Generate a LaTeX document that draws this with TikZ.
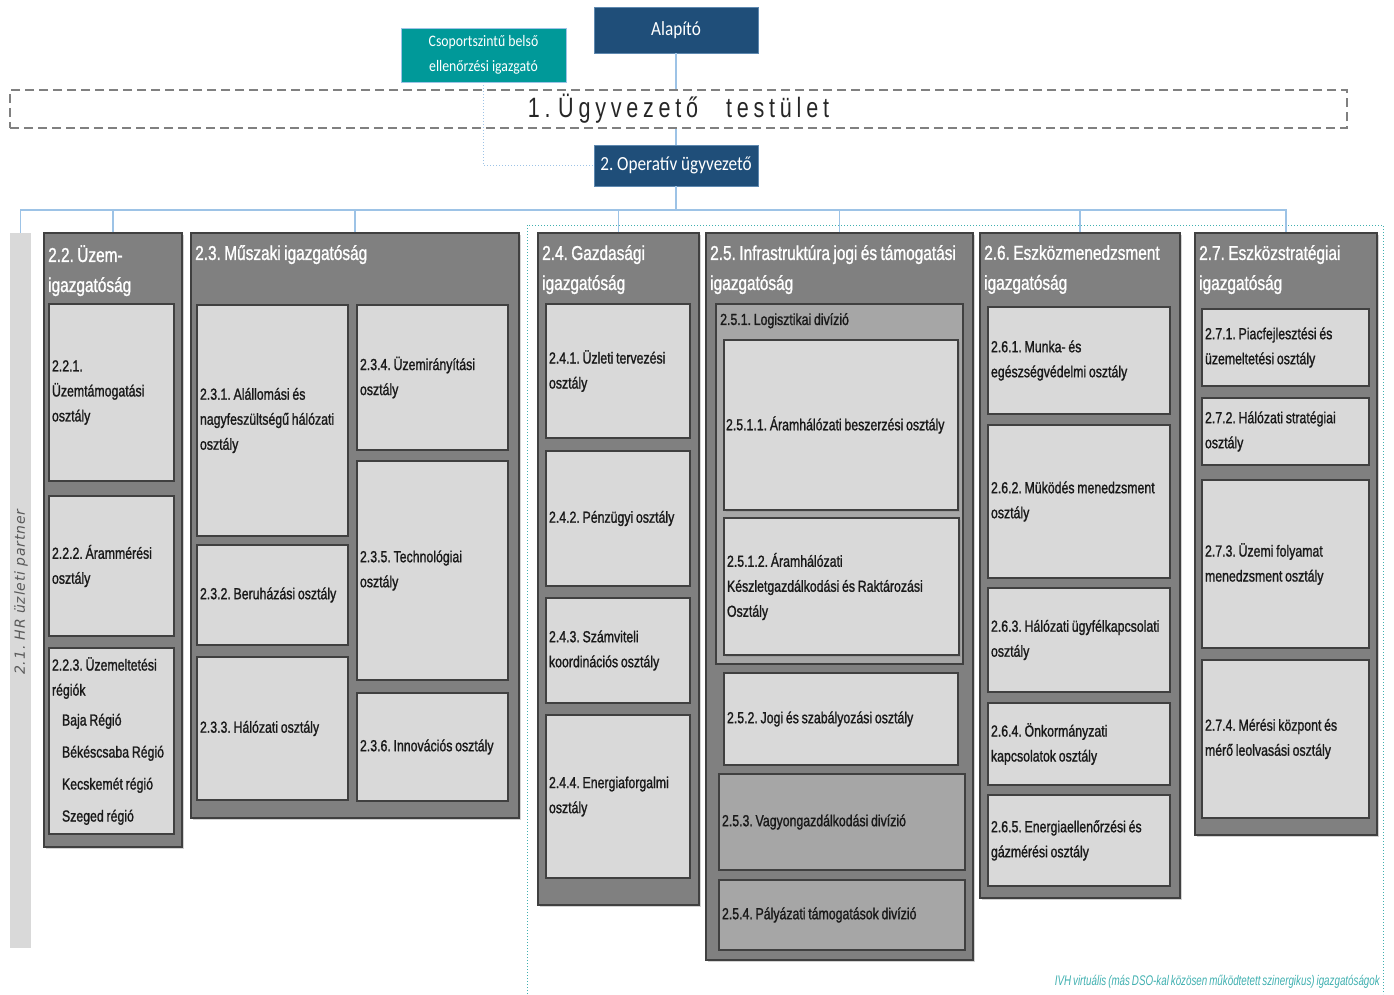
\documentclass[tikz,border=0pt]{standalone}
\usepackage{fontspec}
\setmainfont{Liberation Sans}[FakeStretch=0.77,WordSpace=0.8,FakeBold=1.2]
\newfontfamily\topfont{Carlito}[FakeStretch=0.86]
\newfontfamily\boardfont{Liberation Sans}[FakeStretch=0.77,WordSpace=0.7,LetterSpace=17]
\newfontfamily\hrfont{DejaVu Sans}[LetterSpace=6]
\newfontfamily\notefont{Liberation Sans}[FakeStretch=0.7,WordSpace=0.7]
\usepackage{tikz}
\usetikzlibrary{shadows}
\frenchspacing
\hyphenpenalty=10000
\exhyphenpenalty=10000

\definecolor{navy}{RGB}{31,78,121}
\definecolor{ctrlteal}{RGB}{0,153,153}
\definecolor{linkblue}{RGB}{157,195,230}
\definecolor{ivhteal}{RGB}{64,176,176}

\tikzset{
  head/.style={draw=linkblue!50!navy, fill=navy, text=white, line width=0.8pt,
    font=\topfont\fontsize{20}{24}\selectfont, inner sep=0pt},
  ctrl/.style={draw=linkblue, fill=ctrlteal, text=white, line width=0.8pt, align=center,
    font=\topfont\fontsize{16}{25}\selectfont, inner sep=0pt},
  board/.style={draw=black!50, line width=2.5pt, dash pattern=on 9pt off 5pt,
    font=\boardfont\fontsize{28}{30}\selectfont, text=black!85, inner sep=0pt},
  link/.style={draw=linkblue, line width=1.2pt},
  ivh/.style={draw=ivhteal, line width=1pt, dotted},
  note/.style={text=ivhteal, font=\notefont\itshape\fontsize{14}{16}\selectfont, inner sep=0pt},
  hrbar/.style={fill=black!15, inner sep=0pt},
  hrtext/.style={text=black!65, font=\hrfont\itshape\fontsize{14}{16}\selectfont, inner sep=0pt},
  dept/.style={draw=black!75, fill=black!50, line width=1.3pt, inner sep=0pt,
    drop shadow={shadow xshift=2pt, shadow yshift=-2pt, opacity=0.35}},
  dtitle/.style={text=white, anchor=north west, align=flush left, inner sep=0pt,
    font=\fontsize{20}{30}\selectfont},
  unit/.style={draw=black!75, fill=black!15, line width=1.3pt, text=black!90, align=flush left,
    inner xsep=2pt, inner ysep=2pt, font=\fontsize{16}{25}\selectfont,
    drop shadow={shadow xshift=1.5pt, shadow yshift=-1.5pt, opacity=0.3}},
  division/.style={unit, fill=black!35}
}

\begin{document}
\begin{tikzpicture}[x=1pt, y=-1pt]
  \useasboundingbox (0,0) rectangle (1394,994);

  % Draw the frame of the virtual directorates
  \draw[ivh] (527,994) |- (1383,225) -- (1383,994);
  \node[note, anchor=east] (ivhnote) at (1380,982) {IVH virtuális (más DSO-kal közösen működtetett szinergikus) igazgatóságok};

  % Draw the top of the chart
  \node[head, minimum width=164pt, minimum height=46pt] (alap) at (676,30) {Alapító};
  \node[ctrl, minimum width=165pt, minimum height=54pt] (csop) at (483.5,55) {\raisebox{-3pt}{Csoportszintű belső}\\\raisebox{-3pt}{ellenőrzési igazgató}};
  \node[board, minimum width=1337pt, minimum height=38pt] (board) at (678.5,109) {1. Ügyvezető\quad testület};
  \node[head, minimum width=164pt, minimum height=41pt] (op) at (676,165.5) {2. Operatív ügyvezető};

  \draw[link] (alap.south) -- (alap.south |- board.north);
  \draw[link] (op.north |- board.south) -- (op.north);
  \draw[link, line width=1pt, dotted] (csop.south) |- (op.west);

  % Draw the HR partner bar
  \node[hrbar, minimum width=21pt, minimum height=715pt] (hr) at (20.5,590.5) {};
  \node[hrtext, rotate=90] (hrlabel) at (21,592) {2.1. HR üzleti partner};

  % Draw the directorates
  \node[dept, minimum width=138pt, minimum height=614pt] (d22) at (113,540) {};
  \node[dept, minimum width=328pt, minimum height=585pt] (d23) at (355,525.5) {};
  \node[dept, minimum width=161pt, minimum height=672pt] (d24) at (618.5,569) {};
  \node[dept, minimum width=267pt, minimum height=727pt] (d25) at (839.5,596.5) {};
  \node[dept, minimum width=200pt, minimum height=665pt] (d26) at (1080,565.5) {};
  \node[dept, minimum width=182pt, minimum height=602pt] (d27) at (1286,534) {};

  \node[dtitle] (t22) at (48,245) {2.2. Üzem-\\igazgatóság};
  \node[dtitle] (t23) at (195,245) {2.3. Műszaki igazgatóság};
  \node[dtitle] (t24) at (542,245) {2.4. Gazdasági\\igazgatóság};
  \node[dtitle] (t25) at (710,245) {2.5. Infrastruktúra jogi és támogatási\\igazgatóság};
  \node[dtitle] (t26) at (984,245) {2.6. Eszközmenedzsment\\igazgatóság};
  \node[dtitle] (t27) at (1199,245) {2.7. Eszközstratégiai\\igazgatóság};

  % Draw the lines from the operative manager
  \coordinate (bus) at (676,210);
  \draw[link] (op.south) -- (bus);
  \draw[link] (hr.north) |- (bus) -| (d27.north);
  \foreach \d in {d22,d23,d24,d25,d26}
    \draw[link] (\d.north) -- (\d.north |- bus);

  % 2.2 units
  \node[unit, minimum width=125pt, minimum height=177pt, text width=119pt] (u221) at (111.5,392.5) {2.2.1.\\Üzemtámogatási\\osztály};
  \node[unit, minimum width=125pt, minimum height=140pt, text width=119pt] (u222) at (111.5,566) {2.2.2. Árammérési\\osztály};
  \node[unit, minimum width=125pt, minimum height=186pt, text width=119pt] (u223) at (111.5,741) {2.2.3. Üzemeltetési\\régiók\\[5pt]\hspace*{10pt}Baja Régió\\[7pt]\hspace*{10pt}Békéscsaba Régió\\[7pt]\hspace*{10pt}Kecskemét régió\\[7pt]\hspace*{10pt}Szeged régió};

  % 2.3 units
  \node[unit, minimum width=151pt, minimum height=231pt, text width=145pt] (u231) at (272.5,420.5) {2.3.1. Alállomási és\\nagyfeszültségű hálózati\\osztály};
  \node[unit, minimum width=151pt, minimum height=100pt, text width=145pt] (u232) at (272.5,595) {2.3.2. Beruházási osztály};
  \node[unit, minimum width=151pt, minimum height=143pt, text width=145pt] (u233) at (272.5,728.5) {2.3.3. Hálózati osztály};
  \node[unit, minimum width=151pt, minimum height=145pt, text width=145pt] (u234) at (432.5,377.5) {2.3.4. Üzemirányítási\\osztály};
  \node[unit, minimum width=151pt, minimum height=219pt, text width=145pt] (u235) at (432.5,570.5) {2.3.5. Technológiai\\osztály};
  \node[unit, minimum width=151pt, minimum height=108pt, text width=145pt] (u236) at (432.5,747) {2.3.6. Innovációs osztály};

  % 2.4 units
  \node[unit, minimum width=144pt, minimum height=134pt, text width=138pt] (u241) at (618,371) {2.4.1. Üzleti tervezési\\osztály};
  \node[unit, minimum width=144pt, minimum height=135pt, text width=138pt] (u242) at (618,518.5) {2.4.2. Pénzügyi osztály};
  \node[unit, minimum width=144pt, minimum height=105pt, text width=138pt] (u243) at (618,650.5) {2.4.3. Számviteli\\koordinációs osztály};
  \node[unit, minimum width=144pt, minimum height=163pt, text width=138pt] (u244) at (618,796.5) {2.4.4. Energiaforgalmi\\osztály};

  % 2.5 units and divisions
  \node[division, minimum width=247pt, minimum height=360pt] (v251) at (839.5,484) {};
  \node[dtitle, text=black!90, font=\fontsize{16}{25}\selectfont] (t251) at (720,313) {2.5.1. Logisztikai divízió};
  \node[unit, minimum width=234pt, minimum height=170pt, text width=230pt] (u2511) at (841,425) {2.5.1.1. Áramhálózati beszerzési osztály};
  \node[unit, minimum width=235pt, minimum height=137pt, text width=229pt] (u2512) at (841.5,586.5) {2.5.1.2. Áramhálózati\\Készletgazdálkodási és Raktározási\\Osztály};
  \node[unit, minimum width=234pt, minimum height=92pt, text width=228pt] (u252) at (841,719) {2.5.2. Jogi és szabályozási osztály};
  \node[division, minimum width=246pt, minimum height=96pt, text width=240pt] (v253) at (842,822) {2.5.3. Vagyongazdálkodási divízió};
  \node[division, minimum width=246pt, minimum height=70pt, text width=240pt] (v254) at (842,915) {2.5.4. Pályázati támogatások divízió};

  % 2.6 units
  \node[unit, minimum width=182pt, minimum height=107pt, text width=176pt] (u261) at (1079,360.5) {2.6.1. Munka- és\\egészségvédelmi osztály};
  \node[unit, minimum width=182pt, minimum height=153pt, text width=176pt] (u262) at (1079,501.5) {2.6.2. Müködés menedzsment\\osztály};
  \node[unit, minimum width=182pt, minimum height=104pt, text width=176pt] (u263) at (1079,640) {2.6.3. Hálózati ügyfélkapcsolati\\osztály};
  \node[unit, minimum width=182pt, minimum height=82pt, text width=176pt] (u264) at (1079,744) {2.6.4. Önkormányzati\\kapcsolatok osztály};
  \node[unit, minimum width=182pt, minimum height=91pt, text width=176pt] (u265) at (1079,840.5) {2.6.5. Energiaellenőrzési és\\gázmérési osztály};

  % 2.7 units
  \node[unit, minimum width=167pt, minimum height=77pt, text width=161pt] (u271) at (1285.5,347.5) {2.7.1. Piacfejlesztési és\\üzemeltetési osztály};
  \node[unit, minimum width=167pt, minimum height=67pt, text width=161pt] (u272) at (1285.5,431.5) {2.7.2. Hálózati stratégiai\\osztály};
  \node[unit, minimum width=167pt, minimum height=168pt, text width=161pt] (u273) at (1285.5,564) {2.7.3. Üzemi folyamat\\menedzsment osztály};
  \node[unit, minimum width=167pt, minimum height=158pt, text width=161pt] (u274) at (1285.5,739) {2.7.4. Mérési központ és\\mérő leolvasási osztály};
\end{tikzpicture}
\end{document}
